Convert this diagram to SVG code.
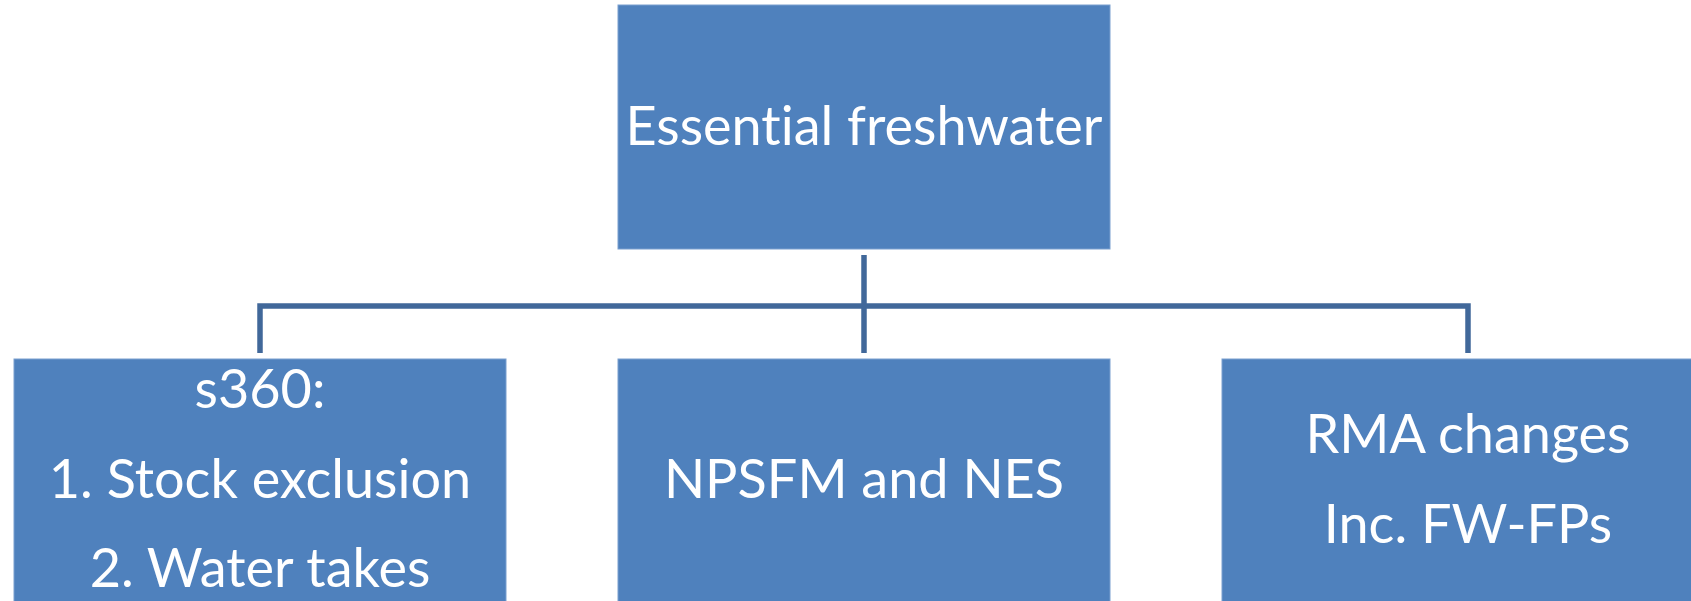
<svg xmlns="http://www.w3.org/2000/svg" width="1691" height="601" viewBox="0 0 1691 601">
<style>
.box{fill:#4F81BD;stroke:#7A9FCF;stroke-width:1}
.t{font-family:Lato,"Open Sans",sans-serif;font-size:54px;fill:#FFFFFF;text-anchor:middle;font-variant-ligatures:none}
.c{fill:none;stroke:#41689A;stroke-width:5.5}
</style>
<rect width="1691" height="601" fill="#FFFFFF"/>
<g id="connectors">
<path class="c" d="M864 255V353"/>
<path class="c" d="M260 353V306H1468V353"/>
</g>
<g id="essential-freshwater">
<rect class="box" x="618" y="5" width="492" height="244"/>
<text class="t" x="864" y="145">Essential freshwater</text>
</g>
<g id="s360">
<rect class="box" x="14" y="359" width="492" height="250"/>
<text class="t" x="260" y="408">s360:</text>
<text class="t" x="260" y="498">1. Stock exclusion</text>
<text class="t" x="260" y="587">2. Water takes</text>
</g>
<g id="npsfm">
<rect class="box" x="618" y="359" width="492" height="250"/>
<text class="t" x="864" y="498">NPSFM and NES</text>
</g>
<g id="rma">
<rect class="box" x="1222" y="359" width="492" height="250"/>
<text class="t" x="1468" y="453">RMA changes</text>
<text class="t" x="1468" y="543">Inc. FW-FPs</text>
</g>
</svg>
